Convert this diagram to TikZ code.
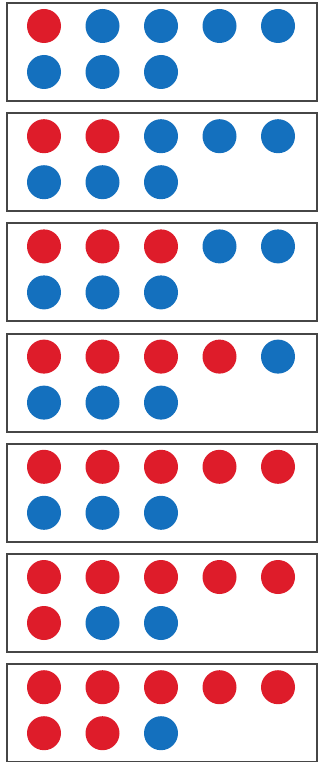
\documentclass[tikz,border=0pt]{standalone}
\usepackage{tikz}
\usetikzlibrary{positioning}
\definecolor{dotred}{RGB}{222,28,42}
\definecolor{dotblue}{RGB}{20,112,190}
\definecolor{frame}{RGB}{70,70,70}

\begin{document}
\begin{tikzpicture}[
    x=1pt, y=-1pt,
    card/.style={draw=frame,line width=2pt},
    dot/.style={circle,inner sep=0pt,minimum size=34pt},
    reddot/.style={dot,fill=dotred},
    bluedot/.style={dot,fill=dotblue}
  ]
    \useasboundingbox (0,0) rectangle (320,762);

    % Seven cards, one more red dot in each
    \foreach \k in {1,...,7} {
      \pgfmathsetmacro{\top}{2+110.2*(\k-1)}
      \node[card,minimum width=310pt,minimum height=98pt,anchor=north west,inner sep=0pt]
        (card\k) at (6,\top) {};
      % top row: five dots
      \foreach \i in {1,...,5} {
        \pgfmathtruncatemacro{\isred}{\i<=\k ? 1 : 0}
        \ifnum\isred=1 \def\col{reddot}\else\def\col{bluedot}\fi
        \node[\col] (d\k-\i) at ({44+58.5*(\i-1)},{\top+24}) {};
      }
      % bottom row: three dots
      \foreach \i in {6,7,8} {
        \pgfmathtruncatemacro{\isred}{\i<=\k ? 1 : 0}
        \ifnum\isred=1 \def\col{reddot}\else\def\col{bluedot}\fi
        \node[\col] (d\k-\i) at ({44+58.5*(\i-6)},{\top+70}) {};
      }
    }
  \end{tikzpicture}
\end{document}
